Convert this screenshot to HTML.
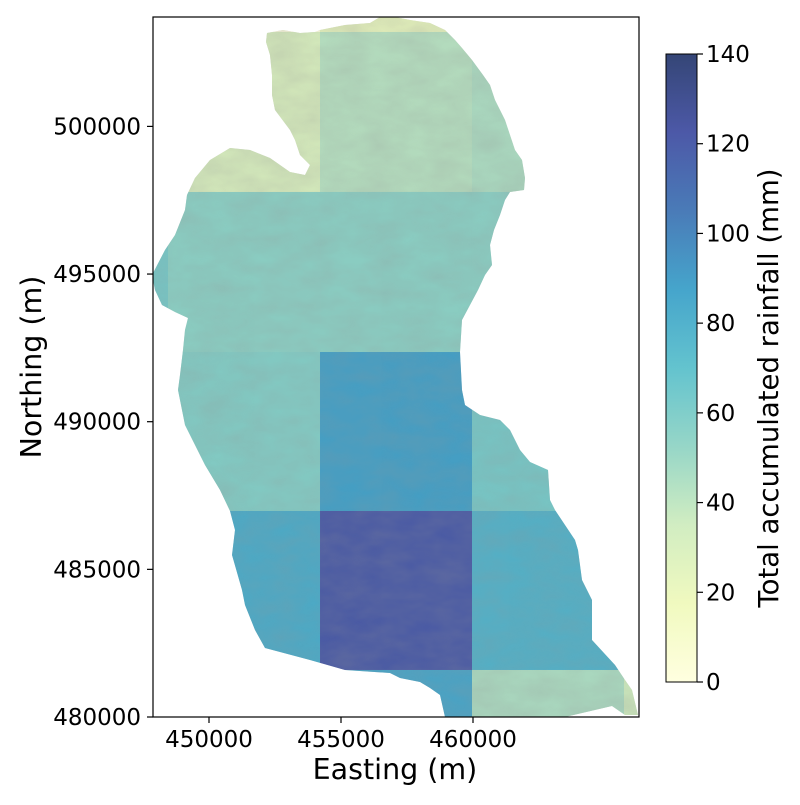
<!DOCTYPE html>
<html><head><meta charset="utf-8"><style>
body{margin:0;background:#fff;width:800px;height:800px;overflow:hidden;font-family:"Liberation Sans",sans-serif}
svg text{font-family:"DejaVu Sans","Liberation Sans",sans-serif;fill:#000}
</style></head><body>
<svg id="chart" width="800" height="800" viewBox="0 0 800 800" xmlns="http://www.w3.org/2000/svg">
<defs>
<clipPath id="catch"><polygon id="outline" points="267,33 283,30 300,33 315,32 320,30 345,25 370,23 380,17 395,17 410,20 430,23 445,30 455,40 462,48 472,60 483,75 490,85 495,100 505,120 510,135 515,150 522,160 525,178 524,190 510,192 505,200 500,215 494,230 490,245 492,265 485,275 478,290 470,305 462,320 460,352 462,390 465,405 480,415 500,420 510,430 520,450 530,462 548,470 550,500 555,510 575,540 578,550 582,580 592,600 592,640 615,665 625,680 632,690 638,715 625,715 612,706 565,717 472,717 445,717 440,695 430,688 420,682 400,678 390,673 345,670 310,660 265,648 255,630 245,605 242,590 232,555 235,530 230,511 220,490 205,465 195,445 185,425 178,390 180,375 183,350 185,330 188,318 175,312 162,305 155,290 152,275 165,250 175,235 185,210 187,195 195,178 210,160 230,148 250,150 270,158 290,172 305,175 310,165 300,155 295,140 290,130 275,110 272,95 272,75 270,55 266,42"/></clipPath>
<clipPath id="plotclip"><rect x="153" y="17" width="486" height="700"/></clipPath>
<filter id="shade" x="0" y="0" width="100%" height="100%"><feTurbulence type="fractalNoise" baseFrequency="0.03 0.06" numOctaves="3" seed="4"/><feColorMatrix type="matrix" values="0 0 0 0 0.3  0 0 0 0 0.3  0 0 0 0 0.3  0 0 0 -1.2 1.0"/></filter>
<linearGradient id="cbgrad" x1="0" y1="1" x2="0" y2="0">
<stop offset="0" stop-color="#ffffd9"/><stop offset="0.125" stop-color="#edf8b1"/><stop offset="0.25" stop-color="#c7e9b4"/><stop offset="0.375" stop-color="#7fcdbb"/><stop offset="0.5" stop-color="#41b6c4"/><stop offset="0.625" stop-color="#1d91c0"/><stop offset="0.75" stop-color="#225ea8"/><stop offset="0.875" stop-color="#253494"/><stop offset="1" stop-color="#081d58"/>
</linearGradient>
</defs>
<g id="map" clip-path="url(#plotclip)">
<g clip-path="url(#catch)">
<rect x="140" y="10" width="510" height="720" fill="#d2d2d2"/>
<g id="cells"></g>
<rect x="140" y="10" width="510" height="720" filter="url(#shade)" opacity="0.25"/>
</g>
</g>
<rect x="153" y="17" width="486" height="700" fill="none" stroke="#000" stroke-width="1.2"/>
<g id="axes"></g>
<text x="395" y="779" font-size="28.5" text-anchor="middle">Easting (m)</text>
<text transform="translate(41,367) rotate(-90)" font-size="28.5" text-anchor="middle">Northing (m)</text>
<g id="colorbar">
<rect x="666" y="54" width="31" height="628" fill="url(#cbgrad)" opacity="0.82"/>
<rect x="666" y="54" width="31" height="628" fill="none" stroke="#000" stroke-width="1"/>
<g id="cbticks"></g>
<text transform="translate(778,388) rotate(-90)" font-size="27.5" text-anchor="middle">Total accumulated rainfall (mm)</text>
</g>
</svg>
<script>
const xEdges = [442690, 448447, 454205, 459962, 465720, 471477];
const yEdges = [508600, 503197, 497779, 492360, 486976, 481592, 476200];
const row0 = [0, 0, 22, 40, 40];
const row1 = [30, 30, 42, 45, 45];
const row2 = [62, 55, 55, 55, 55];
const row3 = [58, 58, 88, 62, 62];
const row4 = [82, 82, 120, 78, 78];
const row5 = [85, 85, 85, 45, 35];
const xTicks = [450000, 455000, 460000];
const yTicks = [480000, 485000, 490000, 495000, 500000];
const cbTicks = [0, 20, 40, 60, 80, 100, 120, 140];
const vmin = 0, vmax = 140;

const NS = "http://www.w3.org/2000/svg";
function sx(x){ return 209 + (x - 450000) * 0.0264; }
function sy(y){ return 717 - (y - 480000) * 0.02953; }
function cbY(v){ return 682 - (v - vmin) / (vmax - vmin) * 628; }
const stops = [[0,[255,255,217]],[0.125,[237,248,177]],[0.25,[199,233,180]],[0.375,[127,205,187]],[0.5,[65,182,196]],[0.625,[29,145,192]],[0.75,[34,94,168]],[0.875,[37,52,148]],[1,[8,29,88]]];
function cmap(v){
  let t = Math.max(0, Math.min(1, (v - vmin) / (vmax - vmin)));
  for (let i = 1; i < stops.length; i++) {
    if (t <= stops[i][0]) {
      const a = stops[i-1], b = stops[i], f = (t - a[0]) / (b[0] - a[0]);
      const c = a[1].map((x, k) => Math.round(x + (b[1][k] - x) * f));
      return "rgb(" + c.join(",") + ")";
    }
  }
  return "rgb(8,29,88)";
}
function mk(tag, attrs, parent){
  const e = document.createElementNS(NS, tag);
  for (const k in attrs) e.setAttribute(k, attrs[k]);
  parent.appendChild(e); return e;
}
const rows = [row0, row1, row2, row3, row4, row5];
const cells = document.getElementById("cells");
rows.forEach((row, r) => {
  row.forEach((v, c) => {
    const x0 = sx(xEdges[c]), x1 = sx(xEdges[c+1]);
    const y0 = sy(yEdges[r]), y1 = sy(yEdges[r+1]);
    const el = mk("rect", {x: x0, y: y0, width: x1 - x0, height: y1 - y0, fill: cmap(v), opacity: 0.78}, cells);
    
    
  });
});
const axes = document.getElementById("axes");
xTicks.forEach(t => {
  const x = sx(t);
  const l = mk("line", {x1: x, x2: x, y1: 717, y2: 723, stroke: "#000", "stroke-width": 1.2}, axes);
  
  
  const tx = mk("text", {x: x, y: 747, "font-size": 23, "text-anchor": "middle"}, axes);
  tx.textContent = t;
  
  
});
yTicks.forEach(t => {
  const y = sy(t);
  const l = mk("line", {x1: 147, x2: 153, y1: y, y2: y, stroke: "#000", "stroke-width": 1.2}, axes);
  
  
  const tx = mk("text", {x: 141, y: y + 8, "font-size": 23, "text-anchor": "end"}, axes);
  tx.textContent = t;
  
  
});
const cbt = document.getElementById("cbticks");
cbTicks.forEach(t => {
  const y = cbY(t);
  const l = mk("line", {x1: 697, x2: 703, y1: y, y2: y, stroke: "#000", "stroke-width": 1.2}, cbt);
  
  
  const tx = mk("text", {x: 706, y: y + 8, "font-size": 23}, cbt);
  tx.textContent = t;
  
  
});
</script>
</body></html>
